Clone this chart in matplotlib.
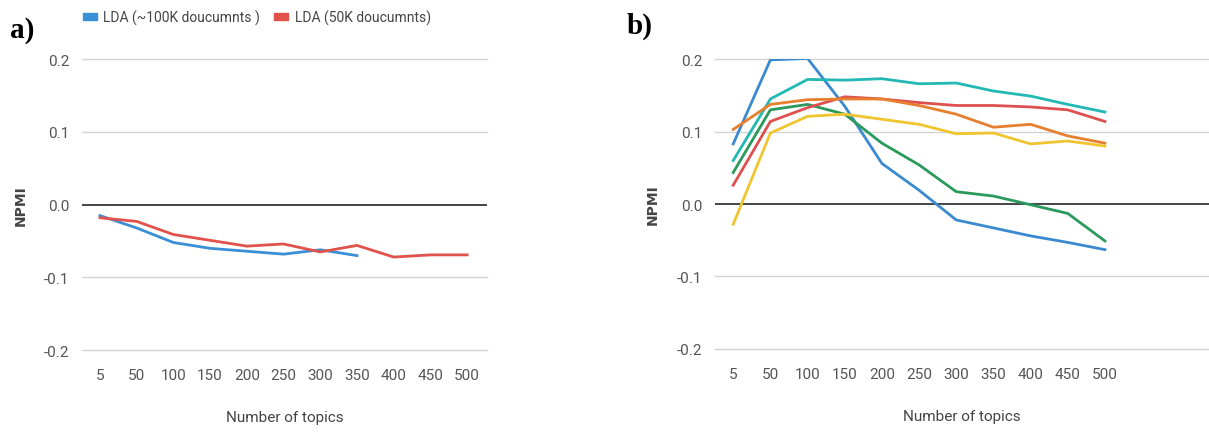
import matplotlib
matplotlib.use("Agg")
import matplotlib.pyplot as plt
from matplotlib.patches import Patch

categories = ["5", "50", "100", "150", "200", "250", "300", "350", "400", "450", "500"]
yticks = [-0.2, -0.1, 0.0, 0.1, 0.2]

# Panel a
lda_100k = [-0.015, -0.032, -0.052, -0.060, -0.064, -0.068, -0.062, -0.070]
lda_50k = [-0.018, -0.023, -0.041, -0.049, -0.057, -0.054, -0.065, -0.056, -0.072, -0.069, -0.069]

# Panel b
b_blue = [0.083, 0.199, 0.201, 0.135, 0.056, 0.019, -0.022, -0.033, -0.044, -0.053, -0.063]
b_teal = [0.060, 0.145, 0.172, 0.171, 0.173, 0.166, 0.167, 0.156, 0.149, 0.1375, 0.127]
b_green = [0.0435, 0.130, 0.1375, 0.124, 0.084, 0.054, 0.017, 0.011, -0.001, -0.013, -0.051]
b_red = [0.026, 0.114, 0.133, 0.148, 0.145, 0.140, 0.136, 0.136, 0.134, 0.130, 0.114]
b_orange = [0.103, 0.1375, 0.144, 0.145, 0.145, 0.136, 0.124, 0.106, 0.110, 0.094, 0.084]
b_yellow = [-0.028, 0.098, 0.121, 0.124, 0.117, 0.110, 0.097, 0.098, 0.083, 0.087, 0.080]

BLUE = "#3b8fd6"
RED = "#e0524a"
b_series = [
    (b_blue, "#3a8ad0"),
    (b_teal, "#22b8b4"),
    (b_green, "#2a9a5c"),
    (b_red, "#de4f4f"),
    (b_orange, "#e7802e"),
    (b_yellow, "#efc530"),
]

NARROW = ["Roboto"]
TICKC = "#555555"

fig = plt.figure(figsize=(12.09, 4.39), dpi=100)
fig.patch.set_facecolor("white")

def style_axes(ax, xright, ylab_x):
    ax.set_ylim(-0.2, 0.2)
    ax.set_xlim(-0.49, xright)
    ax.set_yticks(yticks)
    ax.set_yticklabels(["-0.2", "-0.1", "0.0", "0.1", "0.2"], family=NARROW, fontsize=11, color=TICKC)
    ax.set_xticks(range(len(categories)))
    ax.set_xticklabels(categories, family=NARROW, fontsize=11, color=TICKC)
    for s in ax.spines.values():
        s.set_visible(False)
    ax.tick_params(length=0, pad=9)
    ax.tick_params(axis="x", pad=13)
    for y in yticks:
        if y == 0:
            ax.axhline(y, color="#444444", lw=1.4, zorder=1)
        else:
            ax.axhline(y, color="#d4d4d4", lw=1.0, zorder=0, clip_on=False)
    ax.set_xlabel("Number of topics", family=NARROW, fontsize=11, color="#444444", labelpad=20)
    ax.set_ylabel("NPMI", fontsize=10, color="#444444", fontweight="semibold")
    ax.yaxis.set_label_coords(ylab_x, 0.5)

axa = fig.add_axes([0.0678, 0.20, 0.335, 0.663])
axa.plot(range(len(lda_100k)), lda_100k, color=BLUE, lw=2.0, zorder=3)
axa.plot(range(len(lda_50k)), lda_50k, color=RED, lw=2.0, zorder=3)
style_axes(axa, 10.54, -0.133)

axb = fig.add_axes([0.5914, 0.203, 0.4086, 0.660])
for vals, c in b_series:
    axb.plot(range(len(vals)), vals, color=c, lw=2.0, zorder=3)
style_axes(axb, 12.8, -0.111)

# Legend for panel a
handles = [Patch(color=BLUE), Patch(color=RED)]
leg = fig.legend(handles, ["LDA (~100K doucumnts )", "LDA (50K doucumnts)"],
                 loc="center left", bbox_to_anchor=(0.058, 0.958), ncol=2, frameon=False,
                 prop={"family": NARROW, "size": 10}, handlelength=1.0, handleheight=0.35,
                 columnspacing=1.0, handletextpad=0.5)
for t in leg.get_texts():
    t.set_color("#444444")

fig.text(0.008, 0.93, "a)", family="Liberation Serif", fontweight="bold", fontsize=21, va="center")
fig.text(0.518, 0.94, "b)", family="Liberation Serif", fontweight="bold", fontsize=21, va="center")

fig.savefig("out.png", dpi=100)
